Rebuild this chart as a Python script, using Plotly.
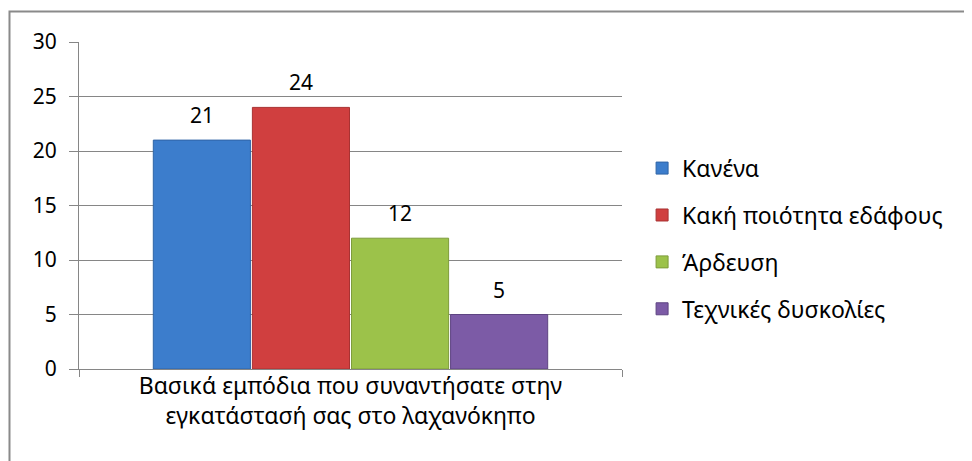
import plotly.graph_objects as go

category = ["Βασικά εμπόδια που συναντήσατε στην<br>εγκατάστασή σας στο λαχανόκηπο"]
series_names = ["Κανένα", "Κακή ποιότητα εδάφους", "Άρδευση", "Τεχνικές δυσκολίες"]
series_values = [21, 24, 12, 5]
colors = ["#3c7dcc", "#d03f3f", "#9cc24a", "#7c5ba6"]
line_colors = ["#2f64a6", "#a83232", "#7d9c3a", "#5e4482"]
y_ticks = [0, 5, 10, 15, 20, 25, 30]

FONT = "Noto Sans"
FS_NUM = 21
FS_TXT = 23

PLOT_W = 543
BARGAP = 0.27
n = len(series_names)
slot = PLOT_W * (1 - BARGAP) / n

fig = go.Figure()
annotations = []
for i, (name, val) in enumerate(zip(series_names, series_values)):
    fig.add_trace(go.Bar(
        x=category, y=[val], name=name,
        marker=dict(color=colors[i], line=dict(color=line_colors[i], width=1)),
        legendgroup=str(i),
    ))
    annotations.append(dict(
        x=category[0], y=val, xref="x", yref="y",
        text=str(val), showarrow=False, yanchor="bottom",
        xshift=(i - (n - 1) / 2) * slot, yshift=9,
        font=dict(family=FONT, size=FS_NUM, color="black"),
    ))

fig.update_layout(
    width=964, height=453,
    margin=dict(l=71, r=350, t=34, b=92),
    paper_bgcolor="white", plot_bgcolor="white",
    font=dict(family=FONT, size=FS_NUM, color="black"),
    barmode="group", bargap=BARGAP, bargroupgap=0.02,
    showlegend=True,
    legend=dict(x=1.037, xanchor="left", y=0.68, yanchor="top",
                traceorder="grouped", tracegroupgap=14,
                font=dict(family=FONT, size=FS_TXT, color="black"),
                bgcolor="rgba(0,0,0,0)"),
    xaxis=dict(showline=True, linecolor="#868686", linewidth=1,
               ticks="outside", tickson="boundaries", ticklen=7, tickcolor="#868686",
               ticklabelstandoff=-4,
               tickfont=dict(family=FONT, size=FS_TXT, color="black"),
               showgrid=False),
    yaxis=dict(range=[0, 30], tickvals=y_ticks, showline=True, linecolor="#868686",
               linewidth=1, showgrid=True, gridcolor="#868686", gridwidth=1,
               ticks="outside", ticklen=9, tickcolor="#868686",
               ticklabelstandoff=8,
               tickfont=dict(family=FONT, size=FS_NUM, color="black"),
               zeroline=False),
    annotations=annotations,
    shapes=[dict(type="rect", xref="paper", yref="paper",
                 x0=-0.128, x1=2.0, y0=-1.0, y1=1.093,
                 line=dict(color="#8a8a8a", width=2), fillcolor="rgba(0,0,0,0)",
                 layer="below")],
)

fig.write_html("out.html")
